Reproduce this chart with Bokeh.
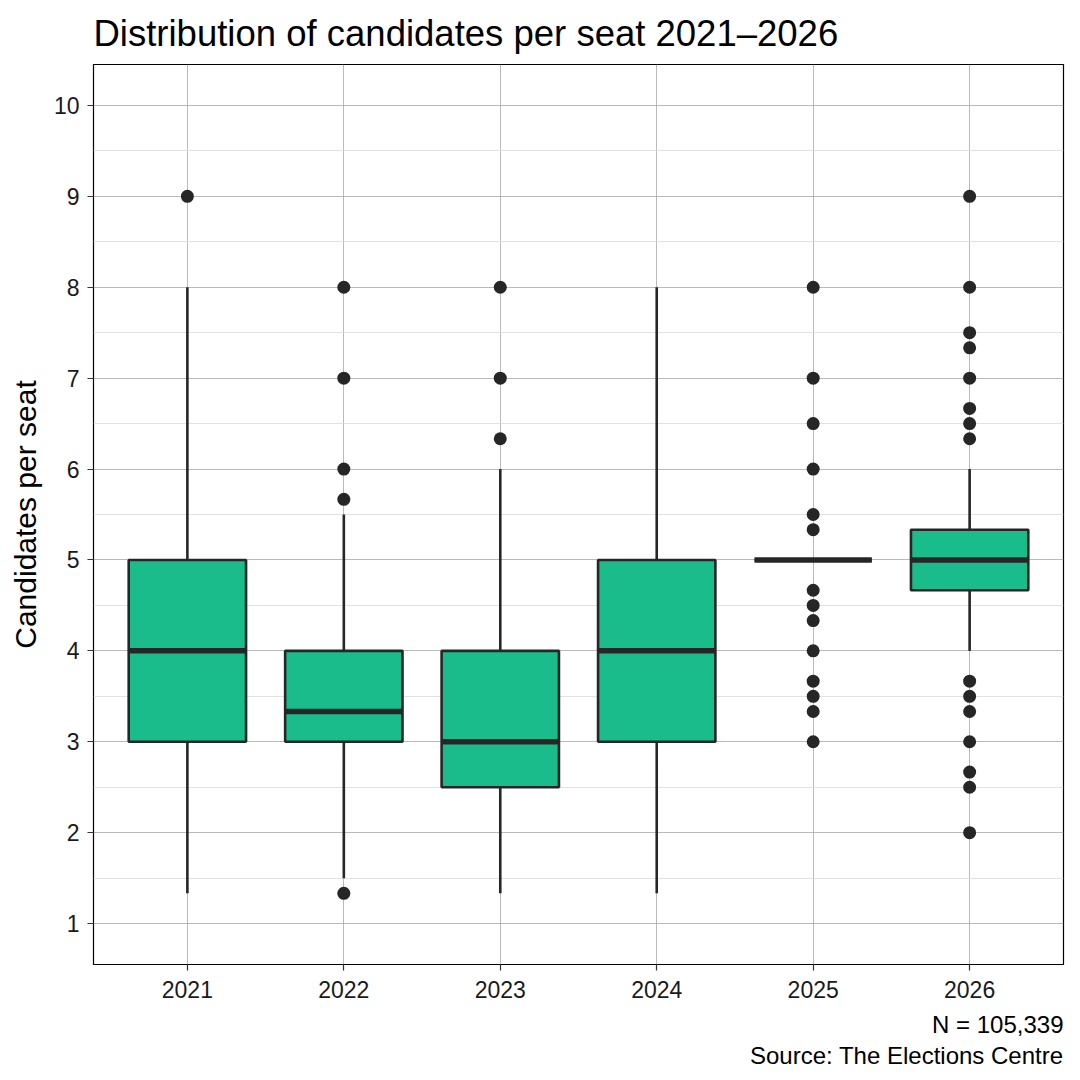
from bokeh.plotting import figure
from bokeh.models import Range1d, FixedTicker, Title
from bokeh.embed import file_html
from bokeh.resources import INLINE

# ---- data ----
years = ["2021", "2022", "2023", "2024", "2025", "2026"]
lower = [1.333, 1.5, 1.333, 1.333, 5.0, 4.0]
q1 = [3.0, 3.0, 2.5, 3.0, 5.0, 4.667]
median = [4.0, 3.333, 3.0, 4.0, 5.0, 5.0]
q3 = [5.0, 4.0, 4.0, 5.0, 5.0, 5.333]
upper = [8.0, 5.5, 6.0, 8.0, 5.0, 6.0]
outliers = {
    "2021": [9.0],
    "2022": [8.0, 7.0, 6.0, 5.667, 1.333],
    "2023": [8.0, 7.0, 6.333],
    "2024": [],
    "2025": [8.0, 7.0, 6.5, 6.0, 5.5, 5.333, 4.667, 4.5, 4.333, 4.0, 3.667, 3.5, 3.333, 3.0],
    "2026": [9.0, 8.0, 7.5, 7.333, 7.0, 6.667, 6.5, 6.333, 3.667, 3.5, 3.333, 3.0, 2.667, 2.5, 2.0],
}
y_ticks = [1, 2, 3, 4, 5, 6, 7, 8, 9, 10]
y_minor = [1.5, 2.5, 3.5, 4.5, 5.5, 6.5, 7.5, 8.5, 9.5]
title_text = "Distribution of candidates per seat 2021\u20132026"
y_label = "Candidates per seat"
caption1 = "N = 105,339"
caption2 = "Source: The Elections Centre"

FONT = "Liberation Sans"
FILL = "#1ABC8C"
DARK = "#262626"
BOX_W = 0.75

xs = list(range(1, len(years) + 1))

p = figure(
    frame_width=970, frame_height=900,
    x_range=Range1d(0.4, len(years) + 0.6),
    y_range=Range1d(0.55, 10.45),
    output_backend="svg", toolbar_location=None,
    min_border_left=93, min_border_right=17, min_border_top=64, min_border_bottom=116,
)
p.background_fill_color = "white"
p.border_fill_color = "white"
p.outline_line_color = "black"
p.outline_line_width = 1.2

# title
p.title.text = title_text
p.title.text_font = FONT
p.title.text_font_size = "36.5px"
p.title.text_font_style = "normal"
p.title.text_color = "black"
p.title.align = "left"
p.title.offset = 0
p.title.standoff = 21

# axes
p.xaxis.ticker = FixedTicker(ticks=xs)
p.xaxis.major_label_overrides = {x: y for x, y in zip(xs, years)}
p.yaxis.ticker = FixedTicker(ticks=y_ticks, minor_ticks=y_minor)
p.yaxis.axis_label = y_label
for ax in (p.xaxis[0], p.yaxis[0]):
    ax.axis_line_color = None
    ax.major_tick_line_color = "#333333"
    ax.major_tick_line_width = 1.2
    ax.major_tick_out = 6
    ax.major_tick_in = 0
    ax.minor_tick_line_color = None
    ax.major_label_text_font = FONT
    ax.major_label_text_font_size = "23px"
    ax.major_label_text_color = "#1a1a1a"
p.xaxis.major_label_standoff = 10
p.yaxis.major_label_standoff = 8
p.yaxis.axis_label_text_font = FONT
p.yaxis.axis_label_text_font_size = "30px"
p.yaxis.axis_label_text_font_style = "normal"
p.yaxis.axis_label_text_color = "black"
p.yaxis.axis_label_standoff = 9

# grid
p.xgrid.grid_line_color = "#A8A8A8"
p.xgrid.grid_line_width = 0.8
p.ygrid.grid_line_color = "#A8A8A8"
p.ygrid.grid_line_width = 0.8
p.ygrid.minor_grid_line_color = "#DADADA"
p.ygrid.minor_grid_line_width = 0.8

# whiskers
p.segment(x0=xs, y0=q3, x1=xs, y1=upper, line_color=DARK, line_width=2.6)
p.segment(x0=xs, y0=q1, x1=xs, y1=lower, line_color=DARK, line_width=2.6)

# boxes
p.vbar(x=xs, width=BOX_W, bottom=q1, top=q3, fill_color=FILL,
       line_color=DARK, line_width=2.6)

# medians
p.segment(x0=[x - BOX_W / 2 for x in xs], y0=median,
          x1=[x + BOX_W / 2 for x in xs], y1=median,
          line_color=DARK, line_width=5.5)

# outliers
ox, oy = [], []
for x, yr in zip(xs, years):
    for v in outliers[yr]:
        ox.append(x)
        oy.append(v)
p.scatter(x=ox, y=oy, size=13, fill_color=DARK, line_color=DARK, line_width=0)

# caption (bottom right)
c1 = Title(text=caption1, align="right", text_font=FONT, text_font_size="24px",
           text_font_style="normal", text_color="black", offset=0, standoff=16)
c2 = Title(text=caption2, align="right", text_font=FONT, text_font_size="24px",
           text_font_style="normal", text_color="black", offset=0, standoff=-12)
p.add_layout(c1, "below")
p.add_layout(c2, "below")

open("out.html", "w").write(file_html(p, INLINE))
